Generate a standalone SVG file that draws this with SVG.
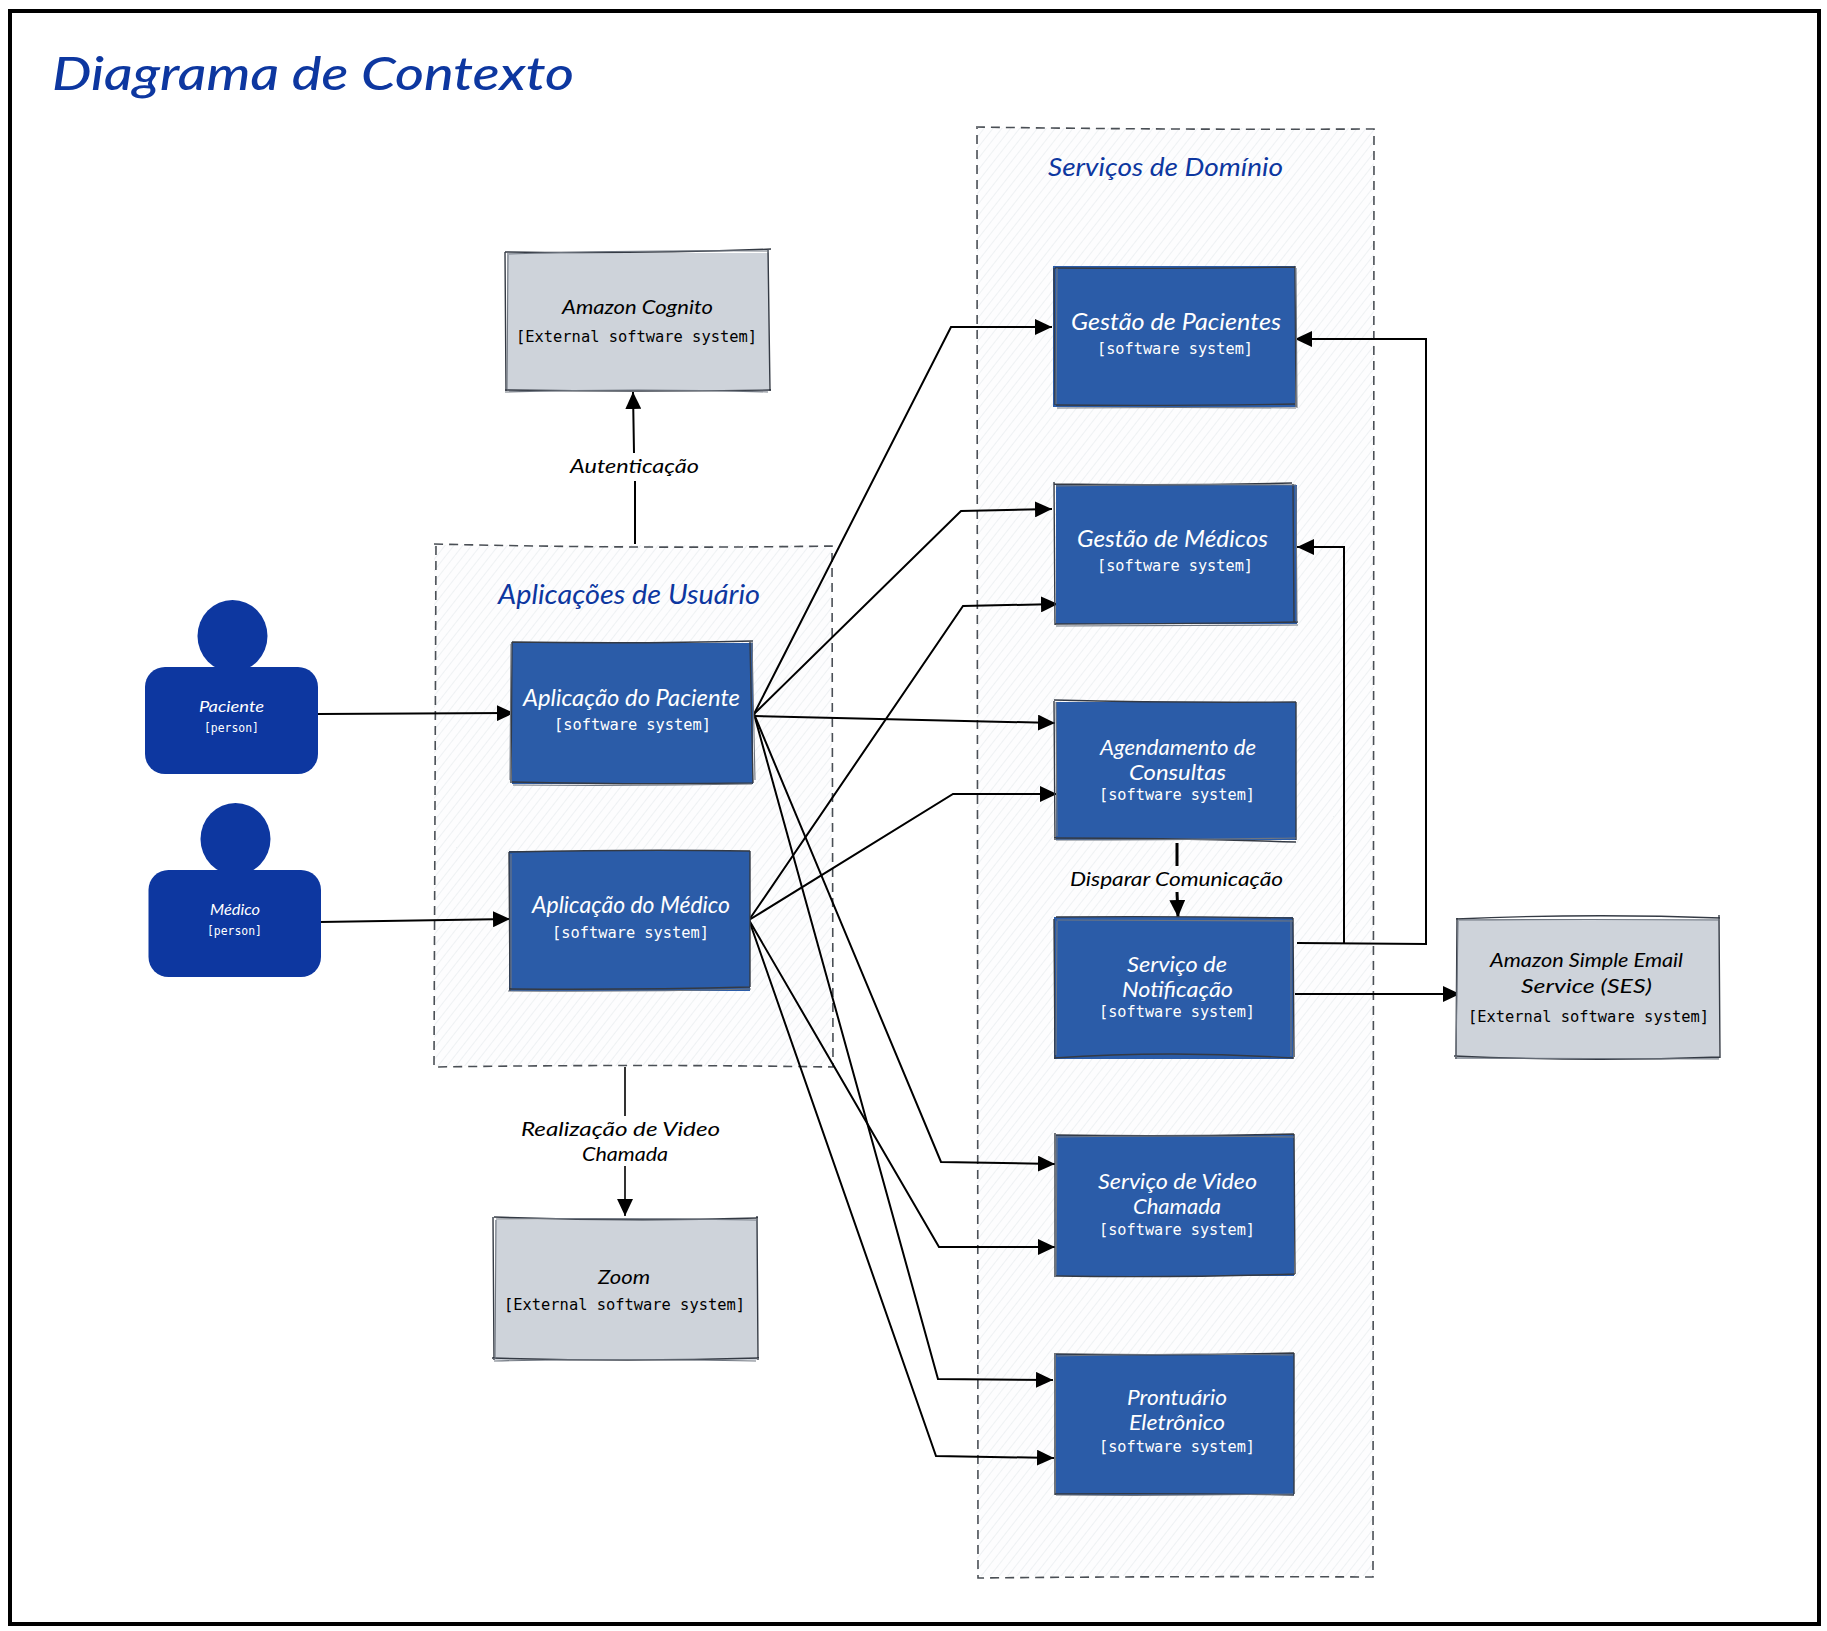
<svg xmlns="http://www.w3.org/2000/svg" width="1827" height="1631" viewBox="0 0 1827 1631">
<style>
.bg{fill:#ffffff}
.frame{fill:none;stroke:#000;stroke-width:4}
.grp{fill:url(#hatch);stroke:none}
.dash{fill:none;stroke:#4a4f55;stroke-width:1.6;stroke-dasharray:9 6}
.blue{fill:#2b5ca8}
.gray{fill:#ced3da}
.person{fill:#0d37a0}
.sk{fill:none;stroke:#343a44;stroke-width:1.4}
.sk2{fill:none;stroke:#6f7680;stroke-width:1.1}
.c{fill:none;stroke:#000;stroke-width:2;marker-end:url(#arrow)}
.hw{font-family:"Lato","Liberation Sans",sans-serif;font-style:italic;font-size:20px}
.mono{font-family:"DejaVu Sans Mono","Liberation Mono",monospace;font-size:16.5px}
.mono-s{font-family:"DejaVu Sans Mono","Liberation Mono",monospace;font-size:12.5px;fill:#fff}
.w{fill:#fff}
.k{fill:#000}
.t{fill:#0d37a0}
.title{font-size:46px;font-weight:500}
.pt{font-size:15px}
</style>
<defs>
<pattern id="hatch" width="7" height="7" patternUnits="userSpaceOnUse" patternTransform="rotate(-52)">
<rect width="7" height="7" fill="#fdfdfe"/>
<line x1="0" y1="0" x2="7" y2="0" stroke="#e9edf0" stroke-width="1.5"/>
</pattern>
<marker id="arrow" markerUnits="userSpaceOnUse" viewBox="0 0 16 15" refX="16" refY="7.5" markerWidth="17" markerHeight="16" orient="auto">
<path d="M0 0L16 7.5L0 15Z" fill="#000"/>
</marker>
</defs>
<rect class="bg" width="1827" height="1631"/>
<rect class="frame" x="10" y="11" width="1809" height="1613"/>
<text class="hw t title" x="52" y="90" textLength="522" lengthAdjust="spacingAndGlyphs">Diagrama de Contexto</text>

<g id="grupo-aplicacoes">
<rect class="grp" x="434" y="545" width="398" height="521"/>
<path class="dash" d="M434 544Q640 549 832 546L833 1067Q640 1064 434 1067L436 544"/>
<text class="hw t" x="498" y="604" style="font-size:27px" textLength="262" lengthAdjust="spacingAndGlyphs">Aplicações de Usuário</text>
</g>
<g id="grupo-servicos">
<rect class="grp" x="977" y="128" width="397" height="1448"/>
<path class="dash" d="M976 127Q1170 130 1374 129L1373 1577Q1180 1576 978 1578L977 127"/>
<text class="hw t" x="1048" y="176" style="font-size:26px" textLength="235" lengthAdjust="spacingAndGlyphs">Serviços de Domínio</text>
</g>

<g id="connectors">
<path class="c" d="M635 544L635 481M634 453L633 392"/>
<path class="c" d="M318 714L514 713"/>
<path class="c" d="M320 922L510 919"/>
<path class="c" d="M754 714L951 327L1052 327"/>
<path class="c" d="M754 714L961 511L1052 509"/>
<path class="c" d="M754 716L1055 723"/>
<path class="c" d="M754 714L941 1162L1055 1164"/>
<path class="c" d="M754 714L938 1379L1053 1380"/>
<path class="c" d="M749 920L963 606L1058 604"/>
<path class="c" d="M749 920L953 794L1057 794"/>
<path class="c" d="M749 920L939 1247L1055 1247"/>
<path class="c" d="M749 920L936 1456L1054 1458"/>
<path class="c" style="stroke-width:3" d="M1177 843L1177 866M1177 892L1178 917"/>
<path class="c" d="M1297 943L1426 944L1426 339L1295 339"/>
<path class="c" d="M1344 943L1344 547L1297 547"/>
<path class="c" d="M1295 994L1460 994"/>
<path class="c" style="stroke-width:1.6" d="M625 1067L625 1116M625 1166L625 1216"/>
</g>

<g id="paciente">
<ellipse class="person" cx="232.500" cy="636" rx="35" ry="36"/>
<rect class="person" x="145" y="667" width="173" height="107" rx="20"/>
<text class="hw w pt" x="199" y="712" textLength="65" lengthAdjust="spacingAndGlyphs">Paciente</text>
<text class="mono-s" x="204" y="732" textLength="55" lengthAdjust="spacingAndGlyphs">[person]</text>
</g>
<g id="medico">
<ellipse class="person" cx="235.500" cy="839" rx="35" ry="36"/>
<rect class="person" x="148.500" y="870" width="172.500" height="107" rx="20"/>
<text class="hw w pt" x="210" y="915" textLength="50" lengthAdjust="spacingAndGlyphs">Médico</text>
<text class="mono-s" x="207" y="935" textLength="55" lengthAdjust="spacingAndGlyphs">[person]</text>
</g>

<g id="cognito">
<rect class="gray" x="507" y="253" width="262" height="138"/>
<path class="sk" d="M505 252Q640 254 771 249M768 249L770 391M771 390Q640 392 505 390M506 391L505 252"/>
<path class="sk2" d="M507 254Q640 250 769 251M505 392Q640 388 768 392M508 255L507 389"/>
<text class="hw k" x="562" y="314" textLength="151" lengthAdjust="spacingAndGlyphs">Amazon Cognito</text>
<text class="mono k" x="516" y="342" textLength="241" lengthAdjust="spacingAndGlyphs">[External software system]</text>
</g>

<g id="zoom">
<rect class="gray" x="495" y="1220" width="262" height="140"/>
<path class="sk" d="M494 1217Q630 1222 758 1218M757 1216L758 1360M759 1358Q630 1362 492 1358M494 1360L493 1217"/>
<path class="sk2" d="M496 1219Q630 1218 757 1220M494 1361Q630 1358 756 1361M496 1220L495 1359"/>
<text class="hw k" x="598" y="1284" textLength="52" lengthAdjust="spacingAndGlyphs">Zoom</text>
<text class="mono k" x="504" y="1310" textLength="241" lengthAdjust="spacingAndGlyphs">[External software system]</text>
</g>

<g id="ses">
<rect class="gray" x="1457" y="919" width="262" height="140"/>
<path class="sk" d="M1456 919Q1590 913 1720 918M1719 915L1720 1058M1720 1057Q1590 1062 1454 1056M1456 1059L1457 918"/>
<path class="sk2" d="M1458 920Q1590 919 1718 920M1456 1058Q1590 1058 1719 1059M1458 921L1456 1057"/>
<text class="hw k" x="1490" y="967" textLength="193" lengthAdjust="spacingAndGlyphs">Amazon Simple Email</text>
<text class="hw k" x="1521" y="993" textLength="131" lengthAdjust="spacingAndGlyphs">Service (SES)</text>
<text class="mono k" x="1468" y="1022" textLength="241" lengthAdjust="spacingAndGlyphs">[External software system]</text>
</g>

<g id="app-paciente">
<rect class="blue" x="512" y="643" width="241" height="141"/>
<path class="sk" d="M512 642Q640 644 753 641M750 642L753 783M753 783Q640 785 512 782M511 783L512 642"/>
<path class="sk2" d="M511 644L510 780M752 640L755 780M513 785Q640 786 752 784"/>
<text class="hw w" style="font-size:24px" x="523" y="706" textLength="217" lengthAdjust="spacingAndGlyphs">Aplicação do Paciente</text>
<text class="mono w" x="554" y="730" textLength="157" lengthAdjust="spacingAndGlyphs">[software system]</text>
</g>
<g id="app-medico">
<rect class="blue" x="509" y="851" width="241" height="140"/>
<path class="sk" d="M509 852Q640 849 750 851M750 851L750 987M750 987Q640 990 509 989M510 991L509 852"/>
<path class="sk2" d="M511 854L511 988M508 991Q640 992 751 989"/>
<text class="hw w" style="font-size:24px" x="532" y="913" textLength="198" lengthAdjust="spacingAndGlyphs">Aplicação do Médico</text>
<text class="mono w" x="552" y="938" textLength="157" lengthAdjust="spacingAndGlyphs">[software system]</text>
</g>

<g id="gestao-pacientes">
<rect class="blue" x="1053" y="266" width="242" height="141"/>
<path class="sk" d="M1055 268Q1170 269 1295 267M1295 266L1296 407M1295 404Q1170 406 1056 405M1055 405L1054 268"/>
<path class="sk2" d="M1057 268L1056 404M1296 268L1297 408M1057 408Q1170 407 1296 408"/>
<text class="hw w" style="font-size:23px" x="1071" y="330" textLength="210" lengthAdjust="spacingAndGlyphs">Gestão de Pacientes</text>
<text class="mono w" x="1097" y="354" textLength="156" lengthAdjust="spacingAndGlyphs">[software system]</text>
</g>
<g id="gestao-medicos">
<rect class="blue" x="1056" y="485" width="241" height="139"/>
<path class="sk" d="M1054 484Q1170 486 1292 483M1293 484L1294 622M1298 622Q1170 624 1055 624M1055 625L1054 482"/>
<path class="sk2" d="M1056 486Q1170 484 1296 485M1296 486L1297 622M1056 626Q1170 626 1298 625"/>
<text class="hw w" style="font-size:23px" x="1077" y="547" textLength="191" lengthAdjust="spacingAndGlyphs">Gestão de Médicos</text>
<text class="mono w" x="1097" y="571" textLength="156" lengthAdjust="spacingAndGlyphs">[software system]</text>
</g>
<g id="agendamento">
<rect class="blue" x="1056" y="702" width="240" height="138"/>
<path class="sk" d="M1054 700Q1170 703 1296 702M1296 702L1296 840M1296 842Q1170 838 1054 838M1055 840L1054 701"/>
<path class="sk2" d="M1056 702L1057 836M1056 840Q1170 840 1296 838"/>
<text class="hw w" x="1100" y="755" style="font-size:22px" textLength="156" lengthAdjust="spacingAndGlyphs">Agendamento de</text>
<text class="hw w" x="1129" y="780" style="font-size:22px" textLength="97" lengthAdjust="spacingAndGlyphs">Consultas</text>
<text class="mono w" x="1099" y="800" textLength="156" lengthAdjust="spacingAndGlyphs">[software system]</text>
</g>
<g id="notificacao">
<rect class="blue" x="1054" y="917" width="239" height="142"/>
<path class="sk" d="M1056 917Q1170 916 1293 918M1293 918L1294 1057M1294 1058Q1170 1050 1054 1058M1055 1059L1054 919"/>
<path class="sk2" d="M1057 920Q1170 921 1293 921M1291 920L1291 1056M1057 921L1056 1055"/>
<text class="hw w" x="1127" y="972" style="font-size:22px" textLength="100" lengthAdjust="spacingAndGlyphs">Serviço de</text>
<text class="hw w" x="1122" y="997" style="font-size:22px" textLength="111" lengthAdjust="spacingAndGlyphs">Notificação</text>
<text class="mono w" x="1099" y="1017" textLength="156" lengthAdjust="spacingAndGlyphs">[software system]</text>
</g>
<g id="video">
<rect class="blue" x="1056" y="1135" width="238" height="141"/>
<path class="sk" d="M1056 1135Q1170 1137 1294 1134M1294 1134L1295 1274M1295 1274Q1170 1278 1056 1276M1055 1277L1055 1133"/>
<path class="sk2" d="M1057 1137Q1170 1135 1294 1137M1057 1136L1056 1275"/>
<text class="hw w" x="1098" y="1189" style="font-size:22px" textLength="159" lengthAdjust="spacingAndGlyphs">Serviço de Video</text>
<text class="hw w" x="1133" y="1214" style="font-size:22px" textLength="88" lengthAdjust="spacingAndGlyphs">Chamada</text>
<text class="mono w" x="1099" y="1235" textLength="156" lengthAdjust="spacingAndGlyphs">[software system]</text>
</g>
<g id="prontuario">
<rect class="blue" x="1056" y="1354" width="238" height="141"/>
<path class="sk" d="M1056 1354Q1170 1356 1294 1353M1294 1353L1294 1494M1294 1495Q1170 1493 1055 1494M1055 1495L1055 1353"/>
<path class="sk2" d="M1057 1356Q1170 1353 1293 1355M1056 1495Q1170 1496 1293 1494"/>
<text class="hw w" x="1127" y="1405" style="font-size:22px" textLength="100" lengthAdjust="spacingAndGlyphs">Prontuário</text>
<text class="hw w" x="1129" y="1430" style="font-size:22px" textLength="96" lengthAdjust="spacingAndGlyphs">Eletrônico</text>
<text class="mono w" x="1099" y="1452" textLength="156" lengthAdjust="spacingAndGlyphs">[software system]</text>
</g>

<g id="connector-labels">
<text class="hw k" x="570" y="473" textLength="129" lengthAdjust="spacingAndGlyphs">Autenticação</text>
<text class="hw k" x="1070" y="886" textLength="213" lengthAdjust="spacingAndGlyphs">Disparar Comunicação</text>
<text class="hw k" x="521" y="1136" textLength="199" lengthAdjust="spacingAndGlyphs">Realização de Video</text>
<text class="hw k" x="582" y="1161" textLength="86" lengthAdjust="spacingAndGlyphs">Chamada</text>
</g>
</svg>
